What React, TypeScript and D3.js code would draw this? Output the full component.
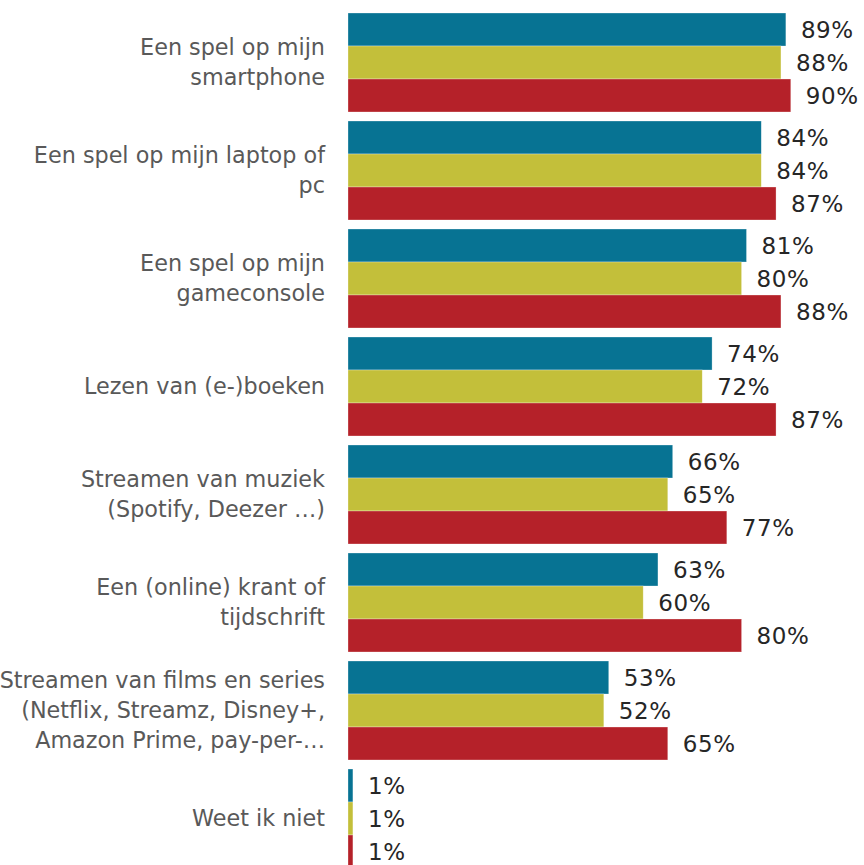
import React from "react";
import * as d3 from "d3";

const categories = [
  "Een spel op mijn smartphone",
  "Een spel op mijn laptop of pc",
  "Een spel op mijn gameconsole",
  "Lezen van (e-)boeken",
  "Streamen van muziek (Spotify, Deezer …)",
  "Een (online) krant of tijdschrift",
  "Streamen van films en series (Netflix, Streamz, Disney+, Amazon Prime, pay-per-…",
  "Weet ik niet",
];

const categoryLines = [
  ["Een spel op mijn", "smartphone"],
  ["Een spel op mijn laptop of", "pc"],
  ["Een spel op mijn", "gameconsole"],
  ["Lezen van (e-)boeken"],
  ["Streamen van muziek", "(Spotify, Deezer …)"],
  ["Een (online) krant of", "tijdschrift"],
  ["Streamen van films en series", "(Netflix, Streamz, Disney+,", "Amazon Prime, pay-per-…"],
  ["Weet ik niet"],
];

const seriesNames = ["A", "B", "C"];
const seriesA = [89, 84, 81, 74, 66, 63, 53, 1];
const seriesB = [88, 84, 80, 72, 65, 60, 52, 1];
const seriesC = [90, 87, 88, 87, 77, 80, 65, 1];
const seriesValues = [seriesA, seriesB, seriesC];
const colors = ["#077393", "#c3bf3a", "#b52129"];

export default function App() {
  const W = 864;
  const H = 865;
  const x0 = 348;
  const x = d3.scaleLinear().domain([0, 100]).range([x0, x0 + 492]);
  const y = d3
    .scaleBand<string>()
    .domain(categories)
    .range([13, 13 + 8 * 108 - 9])
    .paddingInner(9 / 108)
    .paddingOuter(0);
  const ys = d3
    .scaleBand<string>()
    .domain(seriesNames)
    .range([0, y.bandwidth()]);

  return (
    <svg
      width={W}
      height={H}
      style={{ position: "absolute", left: 0, top: 0, display: "block" }}
    >
      <rect width={W} height={H} fill="#ffffff" />
      {categories.map((c, i) => {
        const gy = y(c)!;
        const lines = categoryLines[i];
        const cy = gy + y.bandwidth() / 2;
        const lh = 30;
        return (
          <g key={c}>
            {lines.map((ln, j) => (
              <text
                key={j}
                x={325}
                y={cy + (j - (lines.length - 1) / 2) * lh}
                dy="0.35em"
                textAnchor="end"
                fontFamily="'DejaVu Sans', sans-serif"
                fontSize={22.3}
                fill="#595959"
              >
                {ln}
              </text>
            ))}
            {seriesNames.map((s, k) => {
              const v = seriesValues[k][i];
              const by = gy + ys(s)!;
              return (
                <g key={s}>
                  <rect
                    x={x(0)}
                    y={by}
                    width={x(v) - x(0)}
                    height={ys.bandwidth()}
                    fill={colors[k]}
                    stroke="#ffffff"
                    strokeWidth={0.6}
                    strokeOpacity={0.5}
                  />
                  <text
                    x={x(v) + 15}
                    y={by + ys.bandwidth() / 2}
                    dy="0.36em"
                    fontFamily="'DejaVu Sans', sans-serif"
                    fontSize={23}
                    letterSpacing={0.6}
                    fill="#262626"
                  >
                    {v}%
                  </text>
                </g>
              );
            })}
          </g>
        );
      })}
    </svg>
  );
}
